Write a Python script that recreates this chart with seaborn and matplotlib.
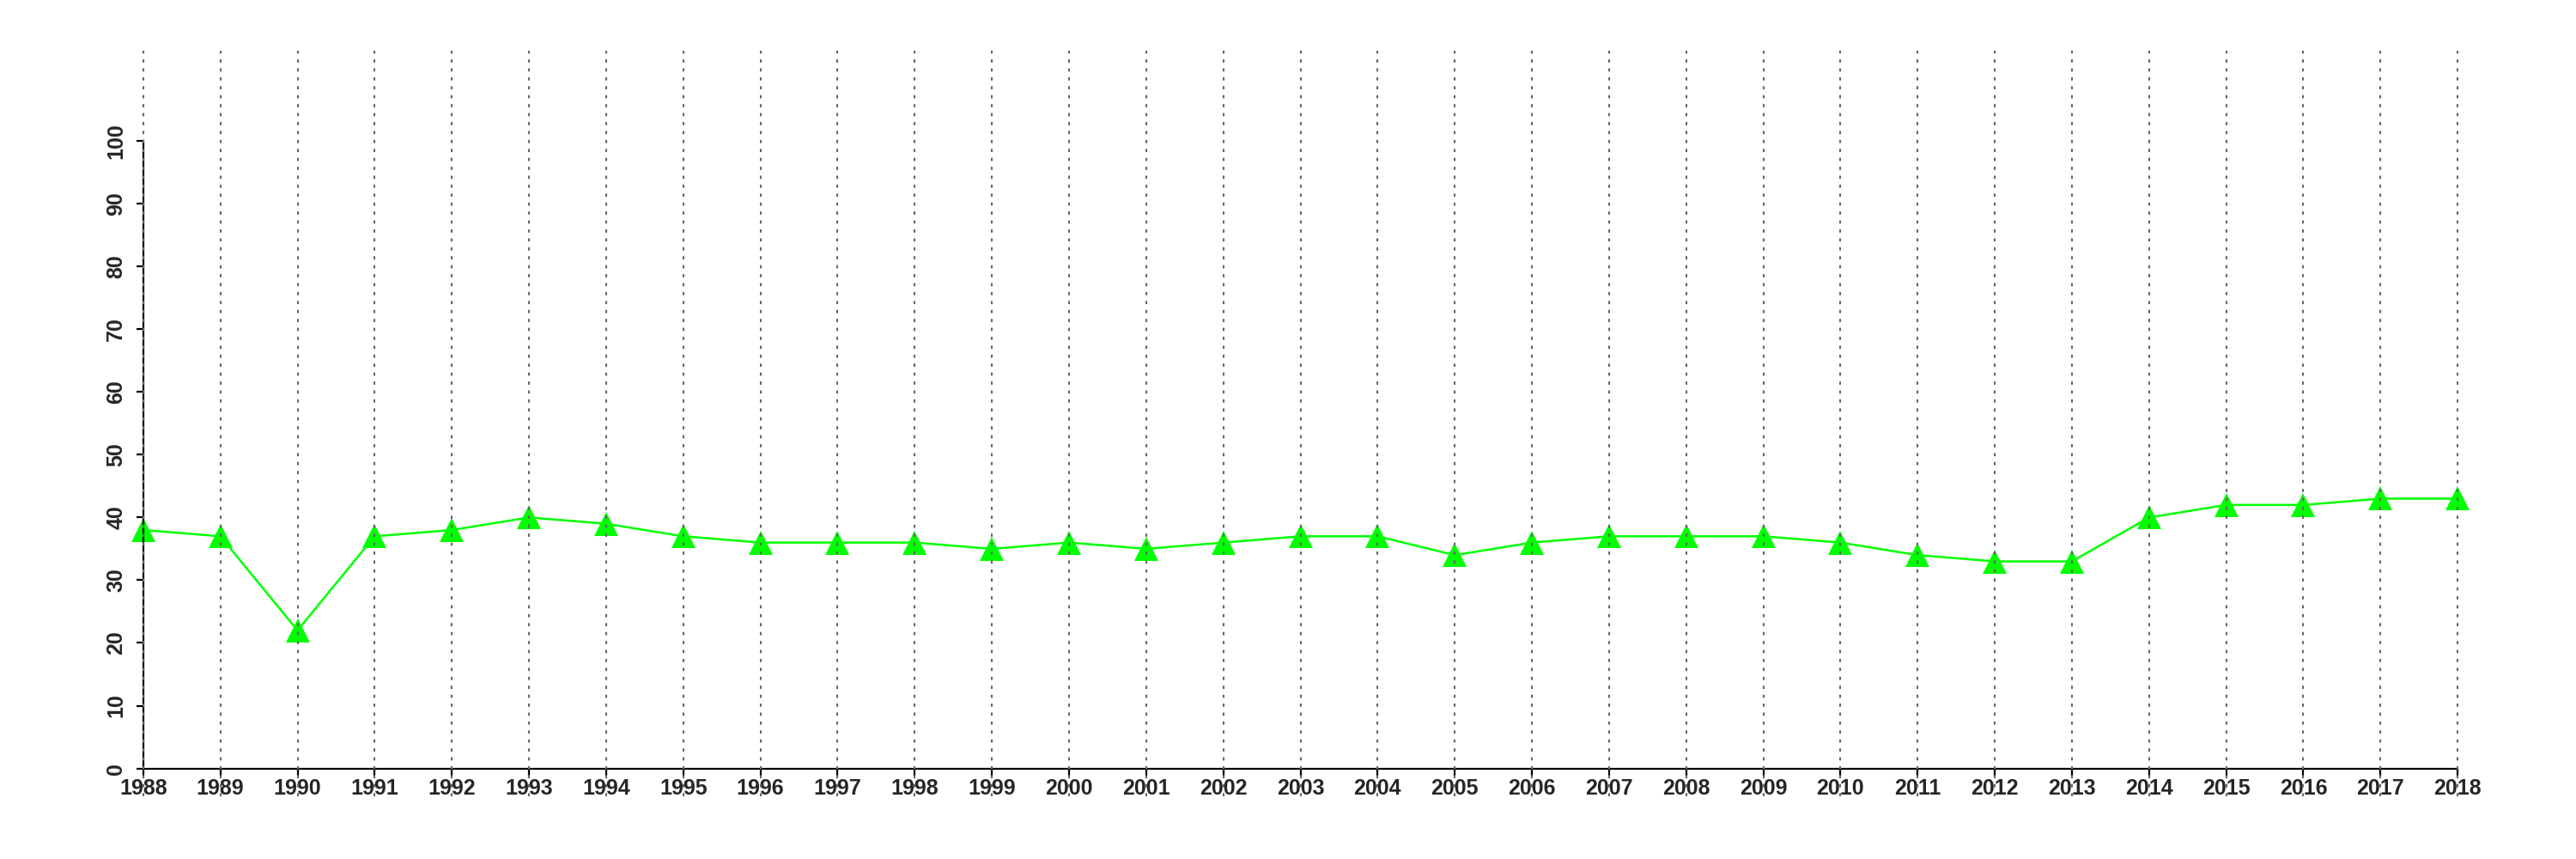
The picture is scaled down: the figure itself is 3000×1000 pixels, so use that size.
import matplotlib
matplotlib.use("Agg")
import matplotlib.pyplot as plt
import seaborn as sns
import pandas as pd

years = list(range(1988, 2019))
values = [38, 37, 22, 37, 38, 40, 39, 37, 36, 36, 36, 35, 36, 35, 36, 37, 37,
          34, 36, 37, 37, 37, 36, 34, 33, 33, 40, 42, 42, 43, 43]
y_ticks = [0, 10, 20, 30, 40, 50, 60, 70, 80, 90, 100]

sns.set_theme(style="white")
plt.rcParams['font.family'] = ['Liberation Sans', 'DejaVu Sans']

df = pd.DataFrame({"year": years, "value": values})

fig = plt.figure(figsize=(30, 10), dpi=100)
ax = fig.add_axes([59/3000, 0.0733, (2970-59)/3000, 0.941-0.0733])

sns.lineplot(data=df, x="year", y="value", ax=ax, color="#00FF00",
             linewidth=1.8, marker="^", markersize=20, markeredgewidth=0,
             markerfacecolor="#00FF00", zorder=3)

for yr in years:
    ax.axvline(yr, color="#666666", linewidth=1.5, linestyle=(0, (1.8, 3.2)), zorder=5)

ax.set_xlim(1988 - 0.04*30, 2018 + 0.04*30)
ax.set_ylim(0 - 0.04*110, 110 + 0.04*110)

for s in ["top", "right"]:
    ax.spines[s].set_visible(False)
ax.spines["left"].set_bounds(0, 100)
ax.spines["bottom"].set_bounds(1988, 2018)
ax.spines["left"].set_position(("data", 1988))
ax.spines["bottom"].set_position(("data", 0))
for s in ["left", "bottom"]:
    ax.spines[s].set_color("black")
    ax.spines[s].set_linewidth(1.6)
    ax.spines[s].set_zorder(4)

ax.set_xticks(years)
ax.set_xticklabels([str(y) for y in years], fontsize=18, fontweight="bold")
ax.set_yticks(y_ticks)
ax.set_yticklabels([str(v) for v in y_ticks], fontsize=18, fontweight="bold",
                   rotation=90, va="center")
ax.tick_params(axis="both", which="both", direction="out", length=6, width=1.6,
               color="black", bottom=True, left=True)
ax.tick_params(axis="x", pad=2)
ax.tick_params(axis="y", pad=8)
ax.set_xlabel("")
ax.set_ylabel("")
ax.grid(False)

fig.savefig("out.png", dpi=100, facecolor="white")
